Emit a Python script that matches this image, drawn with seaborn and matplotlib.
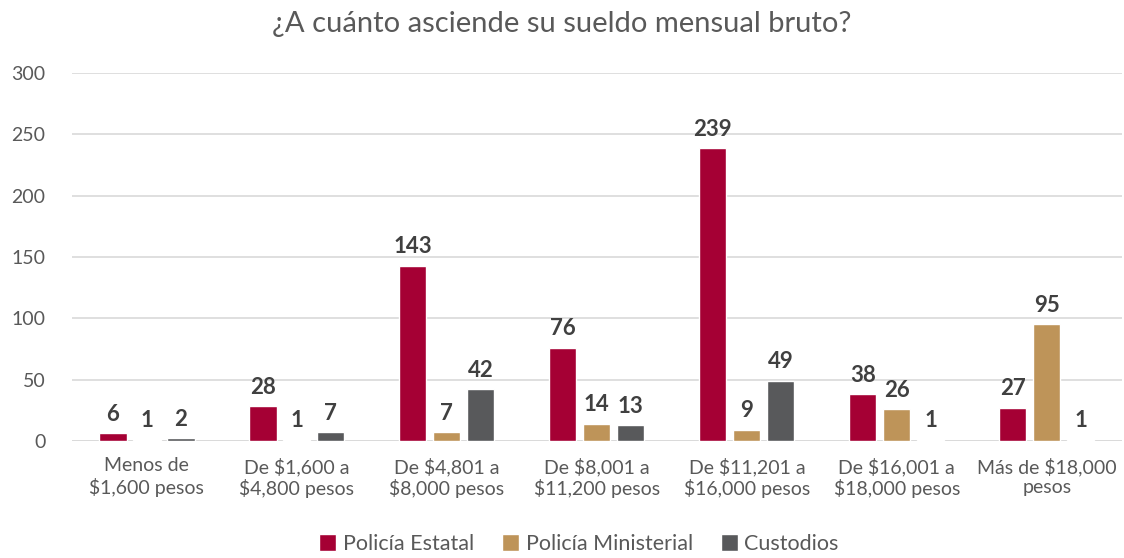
import pandas as pd
import matplotlib.pyplot as plt
import seaborn as sns

categories = [
    "Menos de\n$1,600 pesos",
    "De $1,600 a\n$4,800 pesos",
    "De $4,801 a\n$8,000 pesos",
    "De $8,001 a\n$11,200 pesos",
    "De $11,201 a\n$16,000 pesos",
    "De $16,001 a\n$18,000 pesos",
    "Más de $18,000\npesos",
]
series = ["Policía Estatal", "Policía Ministerial", "Custodios"]
estatal = [6, 28, 143, 76, 239, 38, 27]
ministerial = [1, 1, 7, 14, 9, 26, 95]
custodios = [2, 7, 42, 13, 49, 1, 1]
colors = ["#A50034", "#BE9459", "#58595B"]


def main():
    sns.set_theme(style="white")
    plt.rcParams["font.family"] = ["Lato", "DejaVu Sans"]

    df = pd.DataFrame({
        "categoria": categories * 3,
        "serie": [s for s in series for _ in categories],
        "valor": estatal + ministerial + custodios,
    })

    fig = plt.figure(figsize=(11.24, 5.58), dpi=100)
    ax = fig.add_axes([0.064, 0.21, 0.934, 0.659])
    sns.barplot(data=df, x="categoria", y="valor", hue="serie",
                palette=colors, width=0.68, gap=0.2, ax=ax,
                saturation=1, legend=True)

    for container in ax.containers:
        ax.bar_label(container, fmt="%d", padding=6, fontsize=16,
                     fontweight="bold", color="#404040")

    ax.set_ylim(0, 300)
    ax.set_yticks(range(0, 301, 50))
    ax.set_xlim(-0.5, 6.5)
    ax.grid(axis="y", color="#D9D9D9", linewidth=1.2)
    ax.set_axisbelow(True)
    sns.despine(ax=ax, left=True, bottom=True)
    ax.axhline(0, color="#D9D9D9", linewidth=1.2, zorder=0)
    ax.set_xlabel("")
    ax.set_ylabel("")
    ax.tick_params(axis="both", length=0, colors="#595959")
    ax.tick_params(axis="x", labelsize=14, pad=12)
    ax.tick_params(axis="y", labelsize=14, pad=19)

    fig.suptitle("¿A cuánto asciende su sueldo mensual bruto?", y=0.98,
                 fontsize=21, color="#595959")

    handles, labels = ax.get_legend_handles_labels()
    ax.legend(handles, labels, loc="lower center", bbox_to_anchor=(0.483, -0.36),
              ncol=3, frameon=False, fontsize=15.5, labelcolor="#595959",
              handlelength=0.8, handleheight=0.8, handletextpad=0.3,
              columnspacing=1.3)

    fig.savefig("out.png", dpi=100)


if __name__ == "__main__":
    main()
